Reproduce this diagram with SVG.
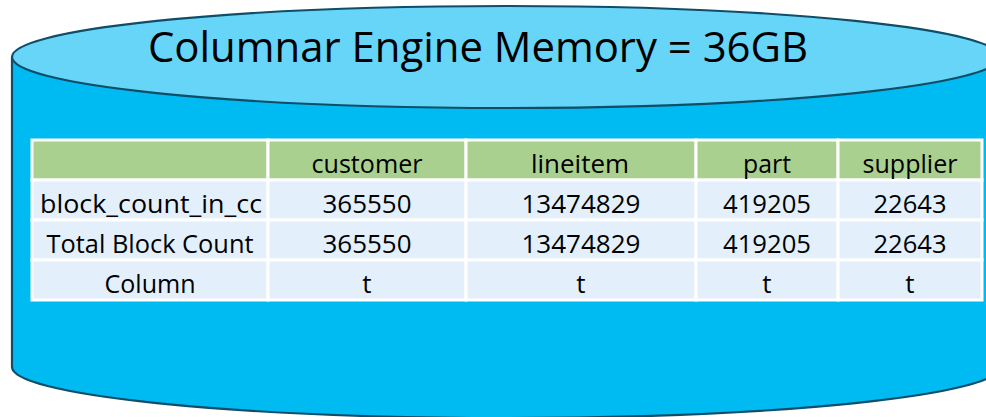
<svg xmlns="http://www.w3.org/2000/svg" width="986" height="417" viewBox="0 0 986 417">
  <style>
    .shell { stroke: #0F4D68; stroke-width: 2.2; }
    .body { fill: #00BBF2; }
    .lid { fill: #66D5F8; }
    .hdr { fill: #A9D08E; stroke: #FFFFFF; stroke-width: 3; }
    .cell { fill: #E3F0FB; stroke: #FFFFFF; stroke-width: 3; }
    text { font-family: "Open Sans", "Liberation Sans", sans-serif; fill: #000000; text-anchor: middle; }
    .t { font-size: 26px; }
    .title { font-size: 42px; }
  </style>

  <!-- memory cylinder -->
  <g id="cylinder">
    <path class="shell body" d="M12,58 L12,367 A494,51 0 0 0 1000,367 L1000,58 Z"/>
    <ellipse class="shell lid" cx="506" cy="57" rx="494" ry="51"/>
    <text class="title" x="478" y="62" textLength="660" lengthAdjust="spacingAndGlyphs">Columnar Engine Memory = 36GB</text>
  </g>

  <!-- block count table -->
  <g id="table">
    <rect x="32" y="140" width="950" height="160" fill="#FFFFFF"/>
    <!-- header row -->
    <rect class="hdr" x="32" y="140" width="236" height="40"/>
    <rect class="hdr" x="268" y="140" width="198" height="40"/>
    <rect class="hdr" x="466" y="140" width="230" height="40"/>
    <rect class="hdr" x="696" y="140" width="142" height="40"/>
    <rect class="hdr" x="838" y="140" width="144" height="40"/>
    <!-- body rows -->
    <g>
      <rect class="cell" x="32" y="180" width="236" height="40"/>
      <rect class="cell" x="268" y="180" width="198" height="40"/>
      <rect class="cell" x="466" y="180" width="230" height="40"/>
      <rect class="cell" x="696" y="180" width="142" height="40"/>
      <rect class="cell" x="838" y="180" width="144" height="40"/>
      <rect class="cell" x="32" y="220" width="236" height="40"/>
      <rect class="cell" x="268" y="220" width="198" height="40"/>
      <rect class="cell" x="466" y="220" width="230" height="40"/>
      <rect class="cell" x="696" y="220" width="142" height="40"/>
      <rect class="cell" x="838" y="220" width="144" height="40"/>
      <rect class="cell" x="32" y="260" width="236" height="40"/>
      <rect class="cell" x="268" y="260" width="198" height="40"/>
      <rect class="cell" x="466" y="260" width="230" height="40"/>
      <rect class="cell" x="696" y="260" width="142" height="40"/>
      <rect class="cell" x="838" y="260" width="144" height="40"/>
    </g>

    <!-- header labels -->
    <text class="t" x="367" y="173" textLength="111" lengthAdjust="spacingAndGlyphs">customer</text>
    <text class="t" x="580" y="173" textLength="98" lengthAdjust="spacingAndGlyphs">lineitem</text>
    <text class="t" x="767" y="173" textLength="48" lengthAdjust="spacingAndGlyphs">part</text>
    <text class="t" x="910" y="173" textLength="95" lengthAdjust="spacingAndGlyphs">supplier</text>

    <!-- block_count_in_cc -->
    <text class="t" x="151" y="213" textLength="222" lengthAdjust="spacingAndGlyphs">block_count_in_cc</text>
    <text class="t" x="367" y="213" textLength="89" lengthAdjust="spacingAndGlyphs">365550</text>
    <text class="t" x="581" y="213" textLength="119" lengthAdjust="spacingAndGlyphs">13474829</text>
    <text class="t" x="767" y="213" textLength="88" lengthAdjust="spacingAndGlyphs">419205</text>
    <text class="t" x="910" y="213" textLength="73" lengthAdjust="spacingAndGlyphs">22643</text>

    <!-- Total Block Count -->
    <text class="t" x="150" y="253" textLength="207" lengthAdjust="spacingAndGlyphs">Total Block Count</text>
    <text class="t" x="367" y="253" textLength="89" lengthAdjust="spacingAndGlyphs">365550</text>
    <text class="t" x="581" y="253" textLength="119" lengthAdjust="spacingAndGlyphs">13474829</text>
    <text class="t" x="767" y="253" textLength="88" lengthAdjust="spacingAndGlyphs">419205</text>
    <text class="t" x="910" y="253" textLength="73" lengthAdjust="spacingAndGlyphs">22643</text>

    <!-- Column -->
    <text class="t" x="150" y="293" textLength="91" lengthAdjust="spacingAndGlyphs">Column</text>
    <text class="t" x="367" y="293">t</text>
    <text class="t" x="581" y="293">t</text>
    <text class="t" x="767" y="293">t</text>
    <text class="t" x="910" y="293">t</text>
  </g>

  <g id="connectors"/>
</svg>
